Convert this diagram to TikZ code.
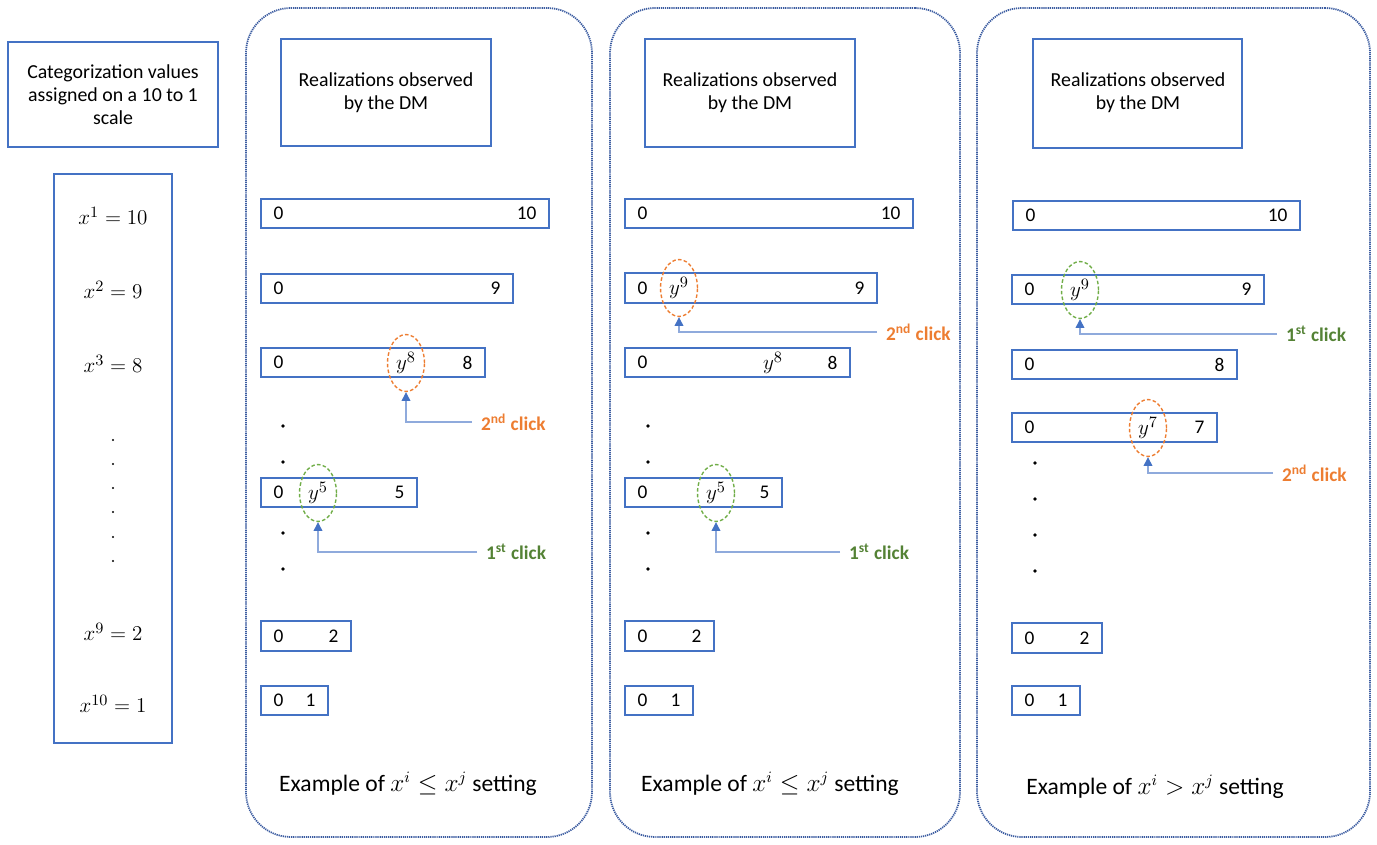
\documentclass[tikz,border=0pt]{standalone}
\usepackage{fontspec}
\setmainfont{Carlito}
\usepackage{amsmath}
\usepackage{amssymb}
\usetikzlibrary{arrows.meta, shapes.geometric, fit}

\definecolor{boxblue}{HTML}{4472C4}
\definecolor{panelblue}{HTML}{3A5BA0}
\definecolor{lineblue}{HTML}{8FAADC}
\definecolor{clickorange}{HTML}{ED7D31}
\definecolor{clickgreen}{HTML}{70AD47}
\definecolor{darkgreen}{HTML}{548235}

\tikzset{
  panel/.style={draw=panelblue, line width=1pt, dash pattern=on 0.7pt off 0.5pt, rounded corners=0.9cm, inner sep=0pt},
  infobox/.style={draw=boxblue, line width=0.9pt, inner sep=0pt},
  bar/.style={draw=boxblue, line width=0.9pt, inner sep=0pt},
  num/.style={inner sep=0pt, font=\fontsize{11}{13}\selectfont},
  mathval/.style={font=\fontsize{12.2}{14}\selectfont},
  pick/.style={ellipse, draw=#1, dashed, dash pattern=on 2pt off 1.3pt, line width=0.8pt, minimum width=0.74cm, minimum height=1.14cm, inner sep=0pt, mathval},
  clicktext/.style={text=#1, font=\fontsize{11}{12}\selectfont\bfseries, inner xsep=5pt, inner ysep=0pt},
  clickline/.style={draw=lineblue, line width=0.7pt, -{Triangle[length=5pt, width=5pt, color=boxblue]}},
  caption/.style={font=\fontsize{13.4}{16}\selectfont}
}

\begin{document}
\begin{tikzpicture}[x=0.02cm, y=-0.02cm, font=\fontsize{11.3}{13.2}\selectfont]
    \useasboundingbox (0,0) rectangle (1377,845);
    % Left column: categorization values
    \node[infobox, fit={(8,42) (218,147)}] (catbox) {};
    \node[align=center] (cattext) at (catbox.center) {Categorization values\\assigned on a 10 to 1\\scale};
    \node[infobox, fit={(54,174) (172,743)}] (listbox) {};
    \node[mathval] (x1) at (113,216) {$x^1 = 10$};
    \node[mathval] (x2) at (113,290) {$x^2 = 9$};
    \node[mathval] (x3) at (113,364) {$x^3 = 8$};
    \foreach \y in {440,464,488,512,537,561}
        \fill (113,\y) circle (0.7pt);
    \node[mathval] (x9) at (113,632) {$x^9 = 2$};
    \node[mathval] (x10) at (113,704) {$x^{10} = 1$};
    % Panels
    \node[panel, fit={(246,8) (592,837)}] (pan1) {};
    \node[panel, fit={(610,8) (960,837)}] (pan2) {};
    \node[panel, fit={(977,8) (1370,837)}] (pan3) {};
    \node[infobox, fit={(281,39) (491,146)}] (dm1) {};
    \node[infobox, fit={(645,39) (855,147)}] (dm2) {};
    \node[infobox, fit={(1033,39) (1242,148)}] (dm3) {};
    \node[align=center] (dm1text) at (386,93) {Realizations observed\\by the DM};
    \node[align=center] (dm2text) at (750,93) {Realizations observed\\by the DM};
    \node[align=center] (dm3text) at (1138,93) {Realizations observed\\by the DM};
    % Realization bars
    \foreach \nm/\xl/\yt/\xr/\yb/\val in {a10/261/199/549/228/10, a9/261/274/513/303/9, a8/261/348/485/377/8,
        a5/261/478/417/507/5, a2/261/621/351/651/2, a1/261/686/328/715/1,
        b10/625/199/913/228/10, b9/625/273/877/303/9, b8/625/348/850/377/8,
        b5/625/478/782/507/5, b2/625/621/714/651/2, b1/625/686/693/715/1,
        c10/1013/201/1300/230/10, c9/1012/275/1264/304/9, c8/1012/350/1237/379/8,
        c7/1012/413/1217/442/7, c2/1012/623/1102/653/2, c1/1012/686/1080/715/1} {
        \node[bar, fit={(\xl,\yt) (\xr,\yb)}] (\nm) {};
        \node[num, anchor=west] (\nm-0) at ([xshift=0.26cm]\nm.west) {0};
        \node[num, anchor=east] (\nm-v) at ([xshift=-0.26cm]\nm.east) {\val};
    }
    \foreach \x/\y in {283/426, 283/462, 283/533, 283/569, 648/426, 648/462, 648/533, 648/569,
        1035/463, 1035/499, 1035/535, 1035/571}
        \fill (\x,\y) circle (1.1pt);
    % Picked realizations
    \node[pick=clickorange] (a8y) at (406,363) {$y^8$};
    \node[pick=clickgreen] (a5y) at (318,493) {$y^5$};
    \node[pick=clickorange] (b9y) at (679,288) {$y^9$};
    \node[mathval] (b8y) at (773,363) {$y^8$};
    \node[pick=clickgreen] (b5y) at (716,493) {$y^5$};
    \node[pick=clickgreen] (c9y) at (1080,290) {$y^9$};
    \node[pick=clickorange] (c7y) at (1148,428) {$y^7$};
    % Clicks
    \node[clicktext=clickorange, anchor=west] (a2nd) at (472,422) {2\textsuperscript{nd} click};
    \node[clicktext=darkgreen, anchor=west] (a1st) at (477,552) {1\textsuperscript{st} click};
    \node[clicktext=clickorange, anchor=west] (b2nd) at (877,332) {2\textsuperscript{nd} click};
    \node[clicktext=darkgreen, anchor=west] (b1st) at (840,552) {1\textsuperscript{st} click};
    \node[clicktext=darkgreen, anchor=west] (c1st) at (1277,334) {1\textsuperscript{st} click};
    \node[clicktext=clickorange, anchor=west] (c2nd) at (1273,473) {2\textsuperscript{nd} click};
    \draw[clickline] (a2nd.west) -| (a8y.south);
    \draw[clickline] (a1st.west) -| (a5y.south);
    \draw[clickline] (b2nd.west) -| (b9y.south);
    \draw[clickline] (b1st.west) -| (b5y.south);
    \draw[clickline] (c1st.west) -| (c9y.south);
    \draw[clickline] (c2nd.west) -| (c7y.south);
    % Settings
    \node[caption] (set1) at (408,784) {Example of $x^i \leq x^j$ setting};
    \node[caption] (set2) at (770,784) {Example of $x^i \leq x^j$ setting};
    \node[caption] (set3) at (1155,787) {Example of $x^i > x^j$ setting};
\end{tikzpicture}
\end{document}
